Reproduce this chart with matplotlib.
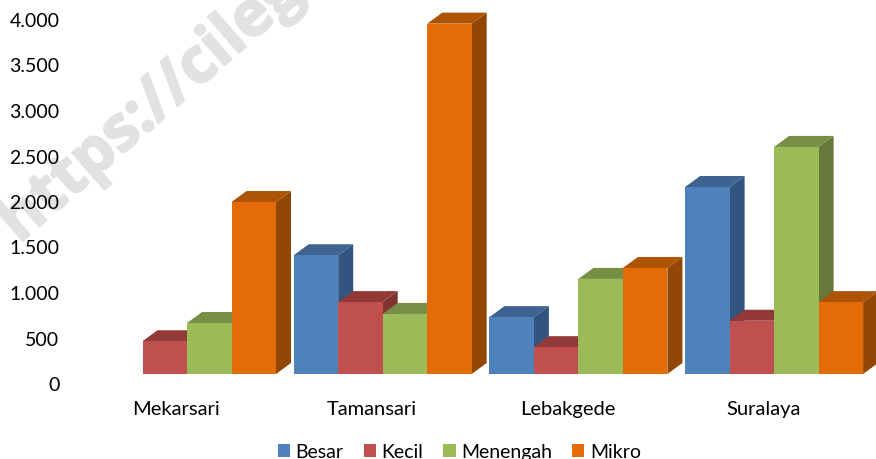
import matplotlib
matplotlib.use('Agg')
import matplotlib.pyplot as plt
import matplotlib.patheffects as pe
from matplotlib.patches import Patch
from matplotlib.transforms import ScaledTranslation

plt.rcParams['font.family'] = ['Lato', 'DejaVu Sans']

# values
lokasi = ['Mekarsari', 'Tamansari', 'Lebakgede', 'Suralaya']
besar = [0, 1305, 625, 2055]
kecil = [360, 790, 295, 585]
menengah = [560, 660, 1045, 2495]
mikro = [1890, 3850, 1165, 790]
seri = ['Besar', 'Kecil', 'Menengah', 'Mikro']
y_ticks = [0, 500, 1000, 1500, 2000, 2500, 3000, 3500, 4000]
y_labels = ['0', '500', '1.000', '1.500', '2.000', '2.500', '3.000', '3.500', '4.000']

# front, top, side
warna = [('#4F81BD', '#3E6390', '#32547E'),
         ('#C0504D', '#923A38', '#7F3230'),
         ('#9BBB59', '#778F45', '#66793A'),
         ('#E36C09', '#AE5407', '#934705')]

W, H = 876, 460
fig = plt.figure(figsize=(W / 100, H / 100), dpi=100)

# pixels to data: 195.7 px per group, 91 px per 1000
left = 72
ax = fig.add_axes([left / W, (H - 375) / H, (W - left) / W, 375 / H])
ax.patch.set_alpha(0)
ax.set_xlim((left - 187) / 195.7, (W - 187) / 195.7)
ax.set_ylim(0, 375 / 91 * 1000)
for s in ax.spines.values():
    s.set_visible(False)

bar_w = 44.5 / 195.7
dx = 15 / 195.7
dy = 11 / 91 * 1000

# watermark sits behind the bars
wm = fig.text(19 / W, 1 - 245 / H, 'https://cileg', fontsize=45, fontweight='bold',
              color='#E2E2E2', rotation=41, rotation_mode='anchor', ha='left', va='baseline',
              zorder=-1, family='Open Sans')
wm.set_path_effects([pe.withStroke(linewidth=1.5, foreground='#E2E2E2')])

nilai = [besar, kecil, menengah, mikro]
for g in range(len(lokasi)):
    for k in range(4):
        v = nilai[k][g]
        if v == 0:
            continue
        x0 = g + (k - 2) * bar_w
        x1 = x0 + bar_w
        c = warna[k]
        # painter order, left to right
        ax.fill([x1, x1 + dx, x1 + dx, x1], [0, dy, v + dy, v], color=c[2], lw=0, clip_on=False, zorder=3)
        ax.fill([x0, x1, x1 + dx, x0 + dx], [v, v, v + dy, v + dy], color=c[1], lw=0, clip_on=False, zorder=3)
        ax.bar(x0, v, bar_w, align='edge', color=c[0], lw=0, clip_on=False, zorder=3)

ax.set_yticks(y_ticks)
ax.set_yticklabels(y_labels, fontsize=14, color='black')
ax.set_xticks(range(len(lokasi)))
ax.set_xticklabels(lokasi, fontsize=14.5, color='black')
ax.tick_params(axis='both', length=0)
ax.tick_params(axis='y', pad=9)
ax.tick_params(axis='x', pad=19)

# axis labels sit apart from the front plane of the bars
off_y = ScaledTranslation(0, -9 / 100, fig.dpi_scale_trans)
off_x = ScaledTranslation(-11 / 100, 0, fig.dpi_scale_trans)
for t in ax.get_yticklabels():
    t.set_transform(t.get_transform() + off_y)
for t in ax.get_xticklabels():
    t.set_transform(t.get_transform() + off_x)

handles = [Patch(color=warna[k][0], lw=0) for k in range(4)]
fig.legend(handles, seri, ncol=4, frameon=False, loc='center',
           bbox_to_anchor=(459.5 / W, 1 - 453 / H), fontsize=14,
           handlelength=0.62, handleheight=0.62, handletextpad=0.3, columnspacing=1.03,
           borderpad=0)

fig.savefig('out.png', dpi=100)
